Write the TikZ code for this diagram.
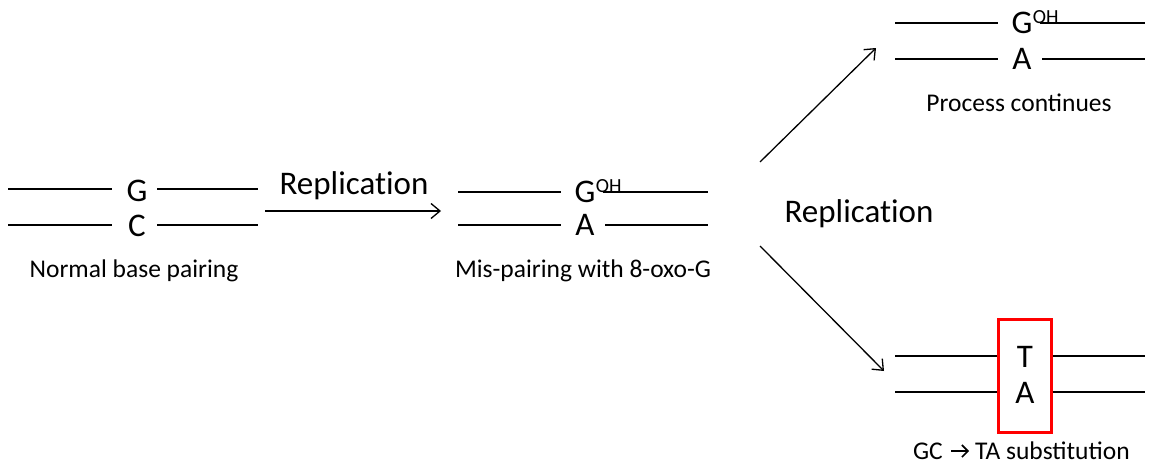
\documentclass[tikz,border=0pt]{standalone}
\usepackage{fontspec}
\setmainfont{Carlito}
\newfontfamily\plainfont[Ligatures=NoCommon]{Carlito}
\usetikzlibrary{arrows.meta}

\begin{document}
\begin{tikzpicture}[x=1pt,y=-1pt,
  strand/.style={line width=1.3pt},
  basename/.style={font=\fontsize{33}{33}\selectfont, inner sep=0pt, anchor=base},
  oh/.style={font=\fontsize{20}{20}\selectfont, inner sep=0pt, anchor=base west},
  caption/.style={font=\fontsize{25.5}{26}\selectfont, inner sep=0pt, anchor=base},
  steplabel/.style={font=\plainfont\fontsize{33}{33}\selectfont, inner sep=0pt, anchor=base},
  flow/.style={line width=1.3pt, -{Straight Barb[length=9pt,width=15pt,line width=1.3pt]}},
  textarrow/.style={line width=1.6pt, -{Straight Barb[length=6pt,width=12pt,line width=1.6pt]}},
  mutbox/.style={draw=red, line width=3pt, minimum width=53pt, minimum height=113pt, inner sep=0pt}
]
\useasboundingbox (0,0) rectangle (1149,466);

% ---- normal G:C pair ----
\node[basename] (g1) at (137,201) {G};
\node[basename] (c1) at (137,236) {C};
\coordinate (g1l) at (8,189);   \coordinate (g1la) at (112,189);
\coordinate (g1r) at (157,189); \coordinate (g1ra) at (258,189);
\coordinate (c1l) at (8,225);   \coordinate (c1la) at (112,225);
\coordinate (c1r) at (157,225); \coordinate (c1ra) at (258,225);
\draw[strand] (g1l) -- (g1la) (g1r) -- (g1ra) (c1l) -- (c1la) (c1r) -- (c1ra);
\node[caption] (cap1) at (134,277) {Normal base pairing};

% ---- first replication ----
\coordinate (r1s) at (265,211);
\coordinate (r1e) at (441,211);
\draw[flow] (r1s) -- (r1e);
\node[steplabel] (rep1) at (354,194) {Replication};

% ---- 8-oxo-G : A mispair ----
\node[basename] (g2) at (585,202) {G};
\node[oh] (oh2) at ([yshift=10pt]g2.base east) {OH};
\node[basename] (a2) at (585,235) {A};
\coordinate (g2l) at (458,192); \coordinate (g2la) at (561,192);
\coordinate (g2r) at (603,192); \coordinate (g2ra) at (708,192);
\coordinate (a2l) at (458,225); \coordinate (a2la) at (561,225);
\coordinate (a2r) at (605,225); \coordinate (a2ra) at (708,225);
\draw[strand] (g2l) -- (g2la) (g2r) -- (g2ra) (a2l) -- (a2la) (a2r) -- (a2ra);
\node[caption] (cap2) at (583,277) {Mis-pairing with 8-oxo-G};

% ---- second replication ----
\node[steplabel] (rep2) at (859,222) {Replication};
\coordinate (up0) at (760,162);
\coordinate (up1) at (876,48);
\coordinate (dn0) at (760,246);
\coordinate (dn1) at (884,371);
\draw[flow] (up0) -- (up1);
\draw[flow] (dn0) -- (dn1);

% ---- outcome: 8-oxo-G : A kept ----
\node[basename] (g3) at (1022,33) {G};
\node[oh] (oh3) at ([yshift=10pt]g3.base east) {OH};
\node[basename] (a3) at (1022,69) {A};
\coordinate (g3l) at (895,23);  \coordinate (g3la) at (998,23);
\coordinate (g3r) at (1040,23); \coordinate (g3ra) at (1145,23);
\coordinate (a3l) at (895,59);  \coordinate (a3la) at (998,59);
\coordinate (a3r) at (1042,59); \coordinate (a3ra) at (1145,59);
\draw[strand] (g3l) -- (g3la) (g3r) -- (g3ra) (a3l) -- (a3la) (a3r) -- (a3ra);
\node[caption] (cap3) at (1019,111) {Process continues};

% ---- outcome: T:A substitution ----
\node[mutbox] (box) at (1024.5,376) {};
\node[basename] (t4) at (1025,367) {T};
\node[basename] (a4) at (1025,403) {A};
\coordinate (t4l) at (895,356); \coordinate (t4r) at (1145,356);
\coordinate (a4l) at (895,392); \coordinate (a4r) at (1145,392);
\draw[strand] (t4l) -- (t4l -| box.west) (t4r -| box.east) -- (t4r);
\draw[strand] (a4l) -- (a4l -| box.west) (a4r -| box.east) -- (a4r);
\node[caption, anchor=base east] (gc) at (943,459) {GC};
\node[caption, anchor=base west] (ta) at (975,459) {TA substitution};
\coordinate (gcta0) at (951,451);
\coordinate (gcta1) at (969,451);
\draw[textarrow] (gcta0) -- (gcta1);
\end{tikzpicture}
\end{document}
